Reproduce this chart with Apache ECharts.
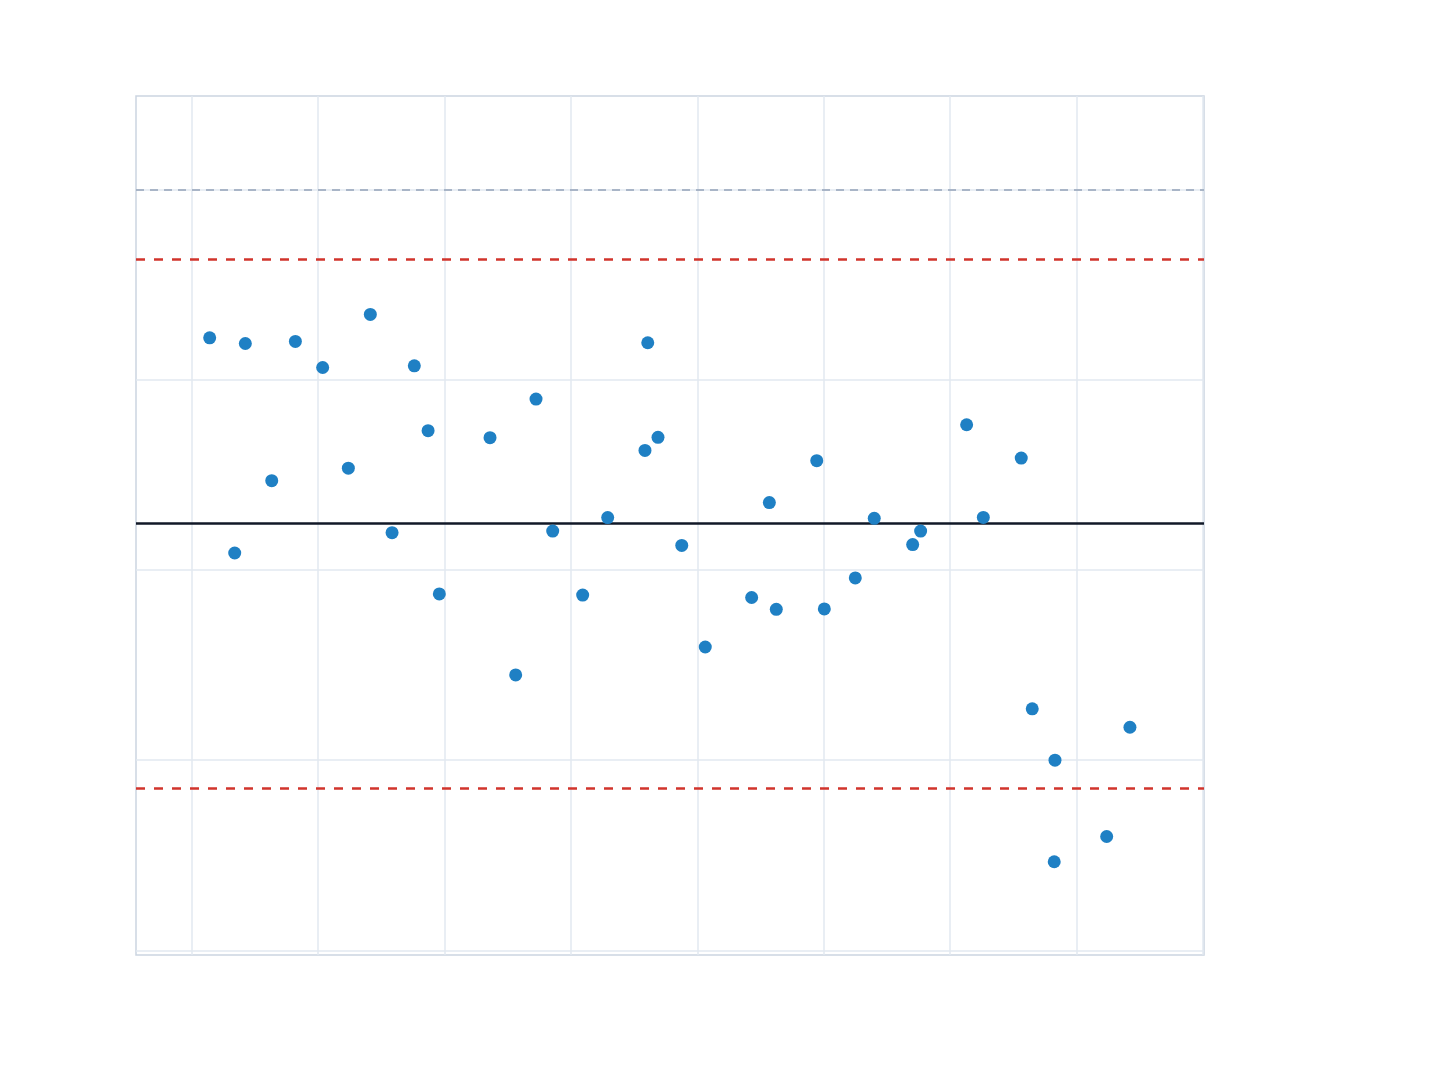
<!DOCTYPE html>
<html>
<head>
<meta charset="utf-8">
<script src="https://cdn.jsdelivr.net/npm/echarts@6/dist/echarts.min.js"></script>
<style>html,body{margin:0;padding:0;background:#fff;}#chart{width:1440px;height:1080px;}</style>
</head>
<body>
<div id="chart"></div>
<script>
// sample positions (x) and measured values (y)
const xValues = [1.42,3.40,4.24,6.33,8.20,10.36,12.39,14.13,15.85,17.61,18.70,19.59,23.60,25.63,27.24,28.56,30.93,32.91,35.86,36.08,36.89,38.77,40.63,44.30,45.70,46.25,49.45,50.05,52.50,54.00,57.04,57.67,61.31,62.63,65.63,66.50,68.30,68.24,72.39,74.23];
const yValues = [32.20,20.89,31.90,24.69,32.01,30.64,25.35,33.43,21.96,30.73,27.32,18.74,26.95,14.48,28.98,22.04,18.68,22.75,26.28,31.94,26.97,21.29,15.95,18.55,23.54,17.93,25.74,17.95,19.58,22.71,21.33,22.04,27.63,22.76,25.88,12.70,10.00,4.66,5.99,11.73];
const centerLine = 22.44;
const upperLimit = 36.34;
const lowerLimit = 8.55;
const specLimit = 40;
const xTicks = [0,10,20,30,40,50,60,70,80];
const yTicks = [0,10,20,30,40];
const xRange = [-4.41, 80.09];
const yRange = [-0.24, 44.91];

const points = xValues.map((x, i) => [x, yValues[i]]);
const chart = echarts.init(document.getElementById('chart'), null, {renderer: 'canvas'});
chart.setOption({
  animation: false,
  backgroundColor: '#ffffff',
  grid: {left: 136, top: 96, right: 236, bottom: 125, show: true, borderColor: '#cbd5e1', borderWidth: 1.5, backgroundColor: 'transparent'},
  xAxis: {type: 'value', min: xRange[0], max: xRange[1], axisLine: {show: false}, axisTick: {show: false}, axisLabel: {show: false}, splitLine: {show: false}},
  yAxis: {type: 'value', min: yRange[0], max: yRange[1], axisLine: {show: false}, axisTick: {show: false}, axisLabel: {show: false}, splitLine: {show: false}},
  series: [
    {
      type: 'line', data: [], z: 1, silent: true,
      markLine: {
        silent: true, symbol: 'none', animation: false,
        label: {show: false},
        lineStyle: {color: '#e2e8f0', width: 1.5, type: 'solid'},
        data: xTicks.map(v => ({xAxis: v})).concat(yTicks.map(v => ({yAxis: v})))
      }
    },
    {
      type: 'line', data: [], z: 2, silent: true,
      markLine: {
        silent: true, symbol: 'none', animation: false,
        label: {show: false},
        data: [
          {yAxis: specLimit, lineStyle: {color: '#94a3b8', width: 1.5, type: [8, 6]}},
          {yAxis: upperLimit, lineStyle: {color: '#d1342c', width: 2.5, type: [9, 9]}},
          {yAxis: lowerLimit, lineStyle: {color: '#d1342c', width: 2.5, type: [9, 9]}},
          {yAxis: centerLine, lineStyle: {color: '#111827', width: 2.5, type: 'solid'}}
        ]
      }
    },
    {
      type: 'scatter', z: 5, data: points, symbol: 'circle', symbolSize: 13,
      itemStyle: {color: '#1f80c4', opacity: 1}
    }
  ]
});
</script>
</body>
</html>
